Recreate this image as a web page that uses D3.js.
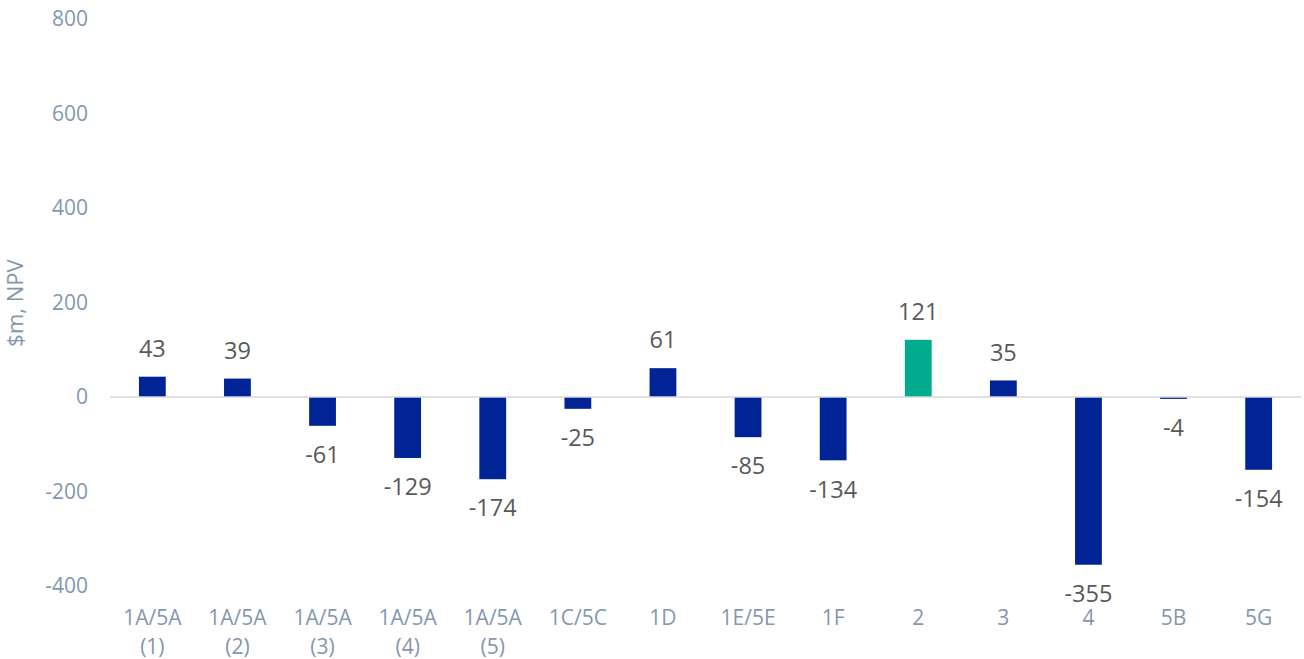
<!DOCTYPE html>
<html><head><meta charset="utf-8">
<script src="https://cdn.jsdelivr.net/npm/d3@7"></script>
<style>body{margin:0;background:#fff;} svg{display:block;}</style>
</head><body>
<svg id="chart" width="1304" height="659"></svg>
<script>
const categories = ["1A/5A (1)","1A/5A (2)","1A/5A (3)","1A/5A (4)","1A/5A (5)","1C/5C","1D","1E/5E","1F","2","3","4","5B","5G"];
const values = [43,39,-61,-129,-174,-25,61,-85,-134,121,35,-355,-4,-154];
const highlight = ["2"];
const yTicks = [-400,-200,0,200,400,600,800];

(function(){
const svg = d3.select("#chart");
const font = "'Open Sans', 'Noto Sans', sans-serif";
const pLeft = 110, pRight = 1301, pTop = 19, pBottom = 586;
const x = d3.scaleBand().domain(categories).range([pLeft, pRight]).paddingInner(0.685).paddingOuter(0.34);
const y = d3.scaleLinear().domain([-400, 800]).range([pBottom, pTop]);

svg.append("g").selectAll("text").data(yTicks).join("text")
  .attr("x", 88).attr("y", d => y(d)).attr("dy", "0.35em")
  .attr("text-anchor", "end").attr("font-family", font).attr("font-size", 21)
  .attr("fill", "#8497b0").text(d => d);

svg.append("text").attr("transform", `translate(15,${303}) rotate(-90)`)
  .attr("text-anchor", "middle").attr("dy", "0.35em").attr("font-family", font).attr("font-size", 22)
  .attr("fill", "#8497b0").text("$m, NPV");

svg.append("g").selectAll("rect").data(values).join("rect")
  .attr("x", (d,i) => x(categories[i]))
  .attr("width", x.bandwidth())
  .attr("y", d => y(Math.max(0,d)))
  .attr("height", d => Math.abs(y(d) - y(0)))
  .attr("fill", (d,i) => highlight.includes(categories[i]) ? "#00ab8e" : "#002395");

svg.append("line").attr("x1", pLeft).attr("x2", pRight).attr("y1", y(0)).attr("y2", y(0))
  .attr("stroke", "#d9d9d9").attr("stroke-width", 1.5);

svg.append("g").selectAll("text").data(values).join("text")
  .attr("x", (d,i) => x(categories[i]) + x.bandwidth()/2)
  .attr("y", d => d >= 0 ? y(d) - 28 : y(d) + 29)
  .attr("dy", "0.35em").attr("text-anchor", "middle")
  .attr("font-family", font).attr("font-size", 23.5).attr("fill", "#595959")
  .text(d => d);

const cat = svg.append("g").selectAll("text").data(categories).join("text")
  .attr("x", d => x(d) + x.bandwidth()/2).attr("y", 618).attr("dy", "0.35em")
  .attr("text-anchor", "middle").attr("font-family", font).attr("font-size", 21)
  .attr("fill", "#8497b0");
cat.each(function(d){
  const m = d.match(/^(.*) (\(\d\))$/);
  const t = d3.select(this);
  if (m) {
    t.append("tspan").attr("x", x(d)+x.bandwidth()/2).text(m[1]);
    t.append("tspan").attr("x", x(d)+x.bandwidth()/2).attr("dy", 29).text(m[2]);
  } else t.text(d);
});
})();
</script>
</body></html>
